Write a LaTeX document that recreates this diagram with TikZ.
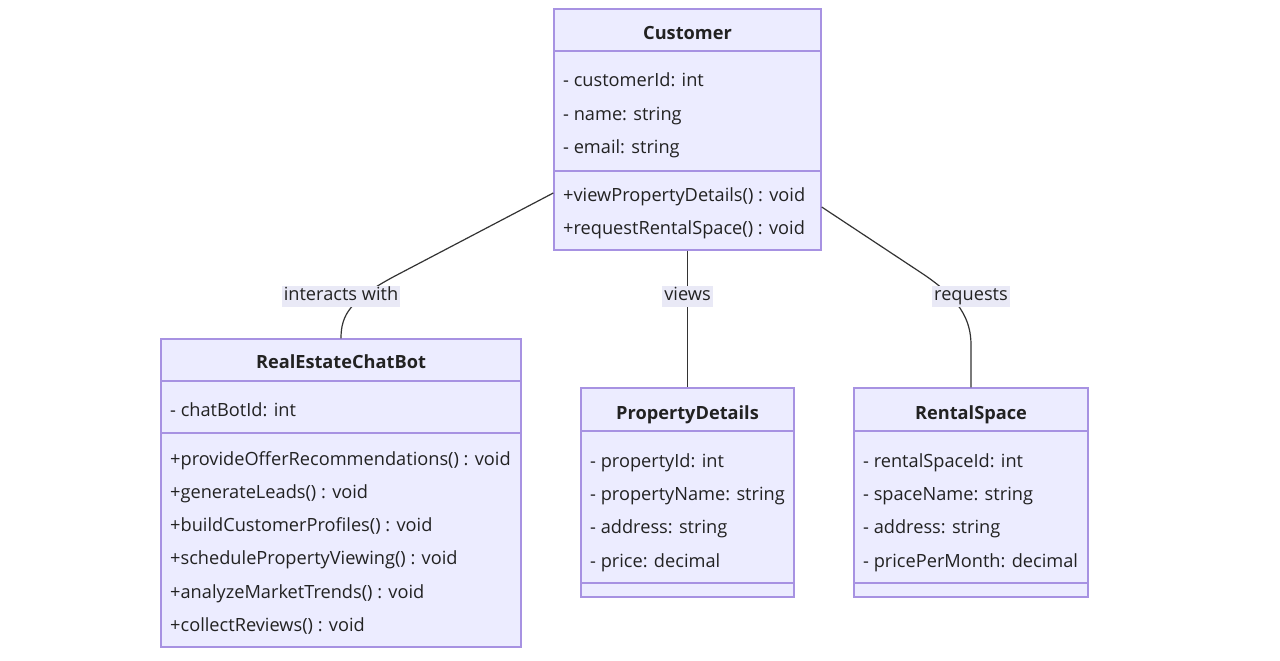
\documentclass[tikz,border=0pt]{standalone}
\usepackage{fontspec}
\setmainfont{Open Sans}
\usetikzlibrary{calc}
\definecolor{boxfill}{HTML}{ECECFF}
\definecolor{boxline}{HTML}{A792E2}
\definecolor{edgecol}{HTML}{333333}
\definecolor{lblbg}{HTML}{E9E9F6}
\definecolor{txt}{HTML}{222222}
\begin{document}
\begin{tikzpicture}[x=1pt,y=-1pt,
  classbox/.style={draw=boxline, fill=boxfill, line width=1.4pt, inner sep=0pt},
  divider/.style={draw=boxline, line width=1.4pt},
  member/.style={anchor=west, inner sep=0pt, yshift=-3pt, text height=13pt, text depth=4pt, font=\fontsize{18.2}{22}\selectfont, text=txt},
  ctitle/.style={anchor=center, inner sep=0pt, yshift=-3pt, text height=13pt, text depth=4pt, font=\fontsize{18.2}{22}\selectfont\bfseries, text=txt},
  edge/.style={draw=edgecol, line width=1.2pt},
  lbl/.style={fill=lblbg, inner sep=2pt, yshift=-2pt, text height=13pt, text depth=4pt, font=\fontsize{18.2}{22}\selectfont, text=txt}
]
\useasboundingbox[fill=white] (0,0) rectangle (1280,661);

% ---------- Customer ----------
\node[classbox, minimum width=267pt, minimum height=241pt] (cust) at (687.5,129.5) {};
\draw[divider] (cust.west |- 0,51) -- (cust.east |- 0,51);
\draw[divider] (cust.west |- 0,171) -- (cust.east |- 0,171);
\node[ctitle] (ct) at (687.5,32) {Customer};
\node[member] (ca1) at (563,79) {- customerId: int};
\node[member] (ca2) at (563,113) {- name: string};
\node[member] (ca3) at (563,146) {- email: string};
\node[member] (cm1) at (563,194) {+viewPropertyDetails() : void};
\node[member] (cm2) at (563,227) {+requestRentalSpace() : void};

% ---------- RealEstateChatBot ----------
\node[classbox, minimum width=360pt, minimum height=308pt] (bot) at (341,493) {};
\draw[divider] (bot.west |- 0,381) -- (bot.east |- 0,381);
\draw[divider] (bot.west |- 0,433) -- (bot.east |- 0,433);
\node[ctitle] (bt) at (341,361) {RealEstateChatBot};
\node[member] (ba1) at (170,409) {- chatBotId: int};
\node[member] (bm1) at (170,458) {+provideOfferRecommendations() : void};
\node[member] (bm2) at (170,491) {+generateLeads() : void};
\node[member] (bm3) at (170,524) {+buildCustomerProfiles() : void};
\node[member] (bm4) at (170,557) {+schedulePropertyViewing() : void};
\node[member] (bm5) at (170,591) {+analyzeMarketTrends() : void};
\node[member] (bm6) at (170,624) {+collectReviews() : void};

% ---------- PropertyDetails ----------
\node[classbox, minimum width=213pt, minimum height=209pt] (pd) at (687.5,492.5) {};
\draw[divider] (pd.west |- 0,431) -- (pd.east |- 0,431);
\draw[divider] (pd.west |- 0,583) -- (pd.east |- 0,583);
\node[ctitle] (pt) at (687.5,412) {PropertyDetails};
\node[member] (pa1) at (590,460) {- propertyId: int};
\node[member] (pa2) at (590,493) {- propertyName: string};
\node[member] (pa3) at (590,526) {- address: string};
\node[member] (pa4) at (590,560) {- price: decimal};

% ---------- RentalSpace ----------
\node[classbox, minimum width=234pt, minimum height=209pt] (rs) at (971,492.5) {};
\draw[divider] (rs.west |- 0,431) -- (rs.east |- 0,431);
\draw[divider] (rs.west |- 0,583) -- (rs.east |- 0,583);
\node[ctitle] (rt) at (971,412) {RentalSpace};
\node[member] (ra1) at (863,460) {- rentalSpaceId: int};
\node[member] (ra2) at (863,493) {- spaceName: string};
\node[member] (ra3) at (863,526) {- address: string};
\node[member] (ra4) at (863,560) {- pricePerMonth: decimal};

% ---------- Connectors ----------
\draw[edge] ([yshift=-63.5pt]cust.west) -- (395,276) .. controls (350,300) and (341,315) .. (bot.north);
\draw[edge] (cust.south) -- (pd.north);
\draw[edge] ([yshift=-77.5pt]cust.east) -- (920,272) .. controls (960,298) and (971,320) .. (971,345) -- (rs.north);

% ---------- Labels ----------
\node[lbl] (l1) at (341,294) {interacts with};
\node[lbl] (l2) at (687.5,294) {views};
\node[lbl] (l3) at (971,294) {requests};
\end{tikzpicture}
\end{document}
